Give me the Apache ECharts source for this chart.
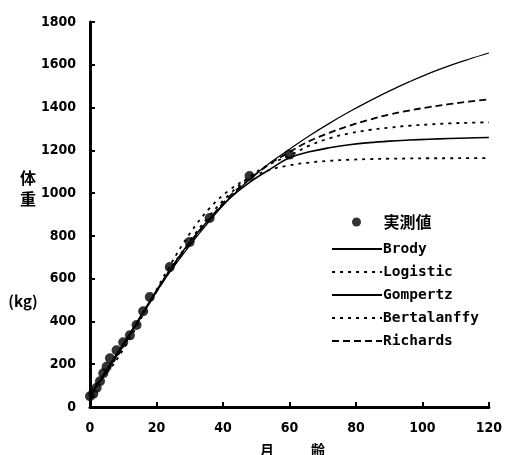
<!DOCTYPE html>
<html><head><meta charset="utf-8">
<script src="https://cdn.jsdelivr.net/npm/echarts@6/dist/echarts.min.js"></script>
<style>html,body{margin:0;padding:0;background:#fff}#c{width:505px;height:455px}</style>
</head><body><div id="c"></div>
<script>
// measured data
const obsMonths = [0, 1, 2, 3, 4, 5, 6, 8, 10, 12, 14, 16, 18, 24, 30, 36, 48, 60];
const obsWeight = [50, 62, 90, 120, 158, 188, 228, 265, 303, 335, 383, 448, 514, 654, 772, 884, 1080, 1180];

// fitted curves, sampled months
const curveMonths = [0, 6, 12, 18, 24, 30, 36, 42, 48, 54, 60, 66, 72, 78, 84, 90, 96, 102, 108, 114, 120];
const brody       = [50, 200, 345, 490, 630, 755, 870, 975, 1065, 1140, 1205, 1268, 1326, 1380, 1430, 1477, 1520, 1560, 1595, 1626, 1655];
const logistic    = [80, 178, 322, 490, 660, 810, 930, 1015, 1072, 1108, 1130, 1143, 1151, 1156, 1159, 1161, 1162, 1163, 1163, 1164, 1164];
const gompertz    = [55, 190, 340, 495, 640, 770, 880, 975, 1050, 1110, 1165, 1193, 1212, 1226, 1236, 1243, 1248, 1252, 1255, 1258, 1260];
const bertalanffy = [60, 185, 335, 490, 640, 775, 895, 995, 1075, 1135, 1175, 1222, 1256, 1279, 1295, 1306, 1315, 1321, 1326, 1329, 1331];
const richards    = [50, 195, 340, 490, 635, 765, 880, 985, 1065, 1135, 1192, 1243, 1282, 1315, 1343, 1367, 1386, 1402, 1416, 1428, 1438];

const xTicks = [0, 20, 40, 60, 80, 100, 120];
const yTicks = [0, 200, 400, 600, 800, 1000, 1200, 1400, 1600, 1800];

const pairs = (xs, ys) => xs.map((x, i) => [x, ys[i]]);
const numFont = "'DejaVu Sans Condensed', 'Liberation Sans Narrow', sans-serif";
const cjkFont = "'Noto Sans CJK JP', sans-serif";
const monoFont = "'DejaVu Sans Mono', 'Liberation Mono', monospace";

function lineSeries(name, data, type, width) {
  return {
    name, type: 'line', data: pairs(curveMonths, data), smooth: 0.4,
    symbol: 'none', showSymbol: false,
    itemStyle: { color: '#000' },
    lineStyle: { color: '#000', width: width, type: type }
  };
}

const chart = echarts.init(document.getElementById('c'), null, { renderer: 'canvas' });
chart.setOption({
  animation: false,
  backgroundColor: '#fff',
  grid: { left: 90, right: 13, top: 22, bottom: 48 },
  xAxis: {
    type: 'value', min: xTicks[0], max: xTicks[xTicks.length - 1], interval: 20,
    axisLine: { lineStyle: { color: '#000', width: 3 } },
    axisTick: { inside: true, length: 5, lineStyle: { color: '#000', width: 2 } },
    axisLabel: { color: '#000', fontFamily: numFont, fontWeight: 'bold', fontSize: 14, margin: 14,
                 formatter: v => String(v) },
    splitLine: { show: false }
  },
  yAxis: {
    type: 'value', min: yTicks[0], max: yTicks[yTicks.length - 1], interval: 200,
    axisLine: { show: true, lineStyle: { color: '#000', width: 3 } },
    axisTick: { show: true, inside: true, length: 5, lineStyle: { color: '#000', width: 2 } },
    axisLabel: { color: '#000', fontFamily: numFont, fontWeight: 'bold', fontSize: 14, margin: 14,
                 formatter: v => String(v) },
    splitLine: { show: false }
  },
  legend: [
    {
      data: ['実測値'], orient: 'vertical', left: 347, top: 209,
      itemWidth: 48, itemHeight: 9, itemGap: 4,
      textStyle: { color: '#000', fontFamily: cjkFont, fontWeight: 'bold', fontSize: 16, padding: [0, 0, 0, -2] }
    },
    {
      data: ['Brody', 'Logistic', 'Gompertz', 'Bertalanffy', 'Richards'],
      orient: 'vertical', left: 326, top: 236,
      itemWidth: 50, itemHeight: 14, itemGap: 7,
      itemStyle: { opacity: 0 },
      textStyle: { color: '#000', fontFamily: monoFont, fontWeight: 'bold', fontSize: 14.5, lineHeight: 16, padding: [0, 0, 0, -4] }
    }
  ],
  series: [
    lineSeries('Brody', brody, 'solid', 1.2),
    lineSeries('Logistic', logistic, [3, 5], 1.8),
    lineSeries('Gompertz', gompertz, 'solid', 1.6),
    lineSeries('Bertalanffy', bertalanffy, [3, 5], 1.8),
    lineSeries('Richards', richards, [7, 4], 1.8),
    {
      name: '実測値', type: 'scatter', data: pairs(obsMonths, obsWeight),
      symbol: 'circle', symbolSize: 10, z: 5,
      itemStyle: { color: '#000' }
    }
  ],
  graphic: [
    { type: 'text', x: 28, y: 178, style: { text: '体', font: "bold 16px " + cjkFont, fill: '#000', align: 'center', verticalAlign: 'middle' } },
    { type: 'text', x: 28, y: 199, style: { text: '重', font: "bold 16px " + cjkFont, fill: '#000', align: 'center', verticalAlign: 'middle' } },
    { type: 'text', x: 23, y: 301, style: { text: '(kg)', font: "bold 15px " + cjkFont, fill: '#000', align: 'center', verticalAlign: 'middle' } },
    { type: 'text', x: 267, y: 450, style: { text: '月', font: "bold 14px " + cjkFont, fill: '#000', align: 'center', verticalAlign: 'middle' } },
    { type: 'text', x: 318, y: 450, style: { text: '齢', font: "bold 14px " + cjkFont, fill: '#000', align: 'center', verticalAlign: 'middle' } }
  ]
});
</script>
</body></html>
